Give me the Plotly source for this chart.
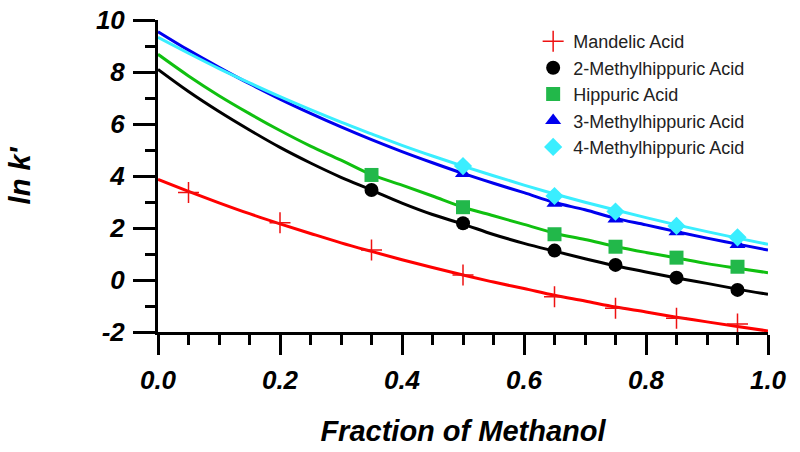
import plotly.graph_objects as go

# ---- data ----
marker_x = [0.35, 0.5, 0.65, 0.75, 0.85, 0.95]
mandelic_x = [0.05, 0.2, 0.35, 0.5, 0.65, 0.75, 0.85, 0.95]
mandelic_y = [3.37, 2.20, 1.15, 0.19, -0.64, -1.09, -1.47, -1.69]
methyl2_y = [3.46, 2.18, 1.13, 0.58, 0.09, -0.38]
hippuric_y = [4.04, 2.80, 1.76, 1.28, 0.86, 0.51]
methyl3_y = [4.10, 2.95, 2.35, 1.86, 1.37]
methyl4_y = [4.38, 3.23, 2.63, 2.08, 1.64]
methyl34_x = [0.5, 0.65, 0.75, 0.85, 0.95]

# fitted curves (values read at these fractions)
curve_x = [0, 0.05, 0.1, 0.15, 0.2, 0.25, 0.3, 0.35, 0.4, 0.45, 0.5,
           0.55, 0.6, 0.65, 0.7, 0.75, 0.8, 0.85, 0.9, 0.95, 1.0]
curve_mandelic = [3.87, 3.41, 2.97, 2.55, 2.16, 1.79, 1.43, 1.10, 0.78, 0.48, 0.19,
                  -0.08, -0.33, -0.59, -0.81, -1.04, -1.23, -1.43, -1.61, -1.79, -1.96]
curve_methyl2 = [8.10, 7.25, 6.48, 5.77, 5.10, 4.50, 3.95, 3.46, 2.96, 2.52, 2.15,
                 1.75, 1.41, 1.11, 0.82, 0.55, 0.31, 0.08, -0.13, -0.35, -0.55]
curve_hippuric = [8.68, 7.85, 7.09, 6.40, 5.75, 5.15, 4.61, 4.05, 3.65, 3.23, 2.80,
                  2.47, 2.14, 1.80, 1.56, 1.29, 1.06, 0.85, 0.63, 0.45, 0.28]
curve_methyl3 = [9.55, 8.84, 8.18, 7.55, 6.96, 6.41, 5.89, 5.40, 4.94, 4.51, 4.10,
                 3.72, 3.36, 2.98, 2.70, 2.37, 2.12, 1.86, 1.61, 1.38, 1.15]
curve_methyl4 = [9.33, 8.72, 8.13, 7.58, 7.05, 6.55, 6.07, 5.62, 5.18, 4.77, 4.38,
                 4.01, 3.65, 3.31, 2.99, 2.69, 2.40, 2.12, 1.86, 1.61, 1.37]

y_tickvals = [-2, 0, 2, 4, 6, 8, 10]
y_ticktext = ["-2", "0", "2", "4", "6", "8", "10"]

names = ["Mandelic Acid", "2-Methylhippuric Acid", "Hippuric Acid",
         "3-Methylhippuric Acid", "4-Methylhippuric Acid"]
line_colors = ["#ff0000", "#000000", "#10c010", "#0000ee", "#3aeeff"]
marker_colors = ["#ee1111", "#000000", "#22b84a", "#0000ee", "#3aeeff"]
symbols = ["cross-thin-open", "circle", "square", "triangle-up", "diamond"]

curves = [curve_mandelic, curve_methyl2, curve_hippuric, curve_methyl3, curve_methyl4]
points = [(mandelic_x, mandelic_y), (marker_x, methyl2_y), (marker_x, hippuric_y),
          (methyl34_x, methyl3_y), (methyl34_x, methyl4_y)]

fig = go.Figure()
for i in range(5):
    fig.add_trace(go.Scatter(
        x=curve_x, y=curves[i], mode="lines", line=dict(color=line_colors[i], width=3, shape="spline"),
        showlegend=False, hoverinfo="skip"))
for i in range(5):
    px, py = points[i]
    if i == 0:
        mk = dict(symbol=symbols[i], size=15, color=marker_colors[i], line=dict(color=marker_colors[i], width=1.5))
    else:
        mk = dict(symbol=symbols[i], size=14, color=marker_colors[i], line=dict(width=0))
    fig.add_trace(go.Scatter(x=px, y=py, mode="markers", marker=mk, name=names[i], cliponaxis=False))

tickfont = dict(family="Liberation Sans, Arial", size=26, color="black", weight="bold", style="italic")
titlefont = dict(family="Liberation Sans, Arial", size=29, color="black", weight="bold", style="italic")

fig.update_layout(
    width=800, height=452,
    margin=dict(l=158, r=32, t=20, b=120),
    paper_bgcolor="white", plot_bgcolor="white",
    legend=dict(x=0.615, y=0.99, xanchor="left", yanchor="top",
                font=dict(family="Liberation Sans, Arial", size=18, color="#222222"),
                bgcolor="rgba(0,0,0,0)"),
    xaxis=dict(range=[0, 1], dtick=0.2, tick0=0, tickformat=".1f", automargin=False,
               showgrid=False, zeroline=False, showline=True, linecolor="black", linewidth=3,
               ticks="outside", ticklen=20, tickwidth=3, tickcolor="black",
               minor=dict(dtick=0.05, ticks="outside", ticklen=10, tickwidth=3, tickcolor="black", showgrid=False),
               tickfont=tickfont, ticklabelstandoff=3, ticklabeloverflow="allow",
               title=dict(text="Fraction of Methanol", font=titlefont, standoff=27)),
    yaxis=dict(range=[-2, 10], tickvals=y_tickvals, ticktext=y_ticktext, automargin=False,
               showgrid=False, zeroline=False, showline=True, linecolor="black", linewidth=3,
               ticks="outside", ticklen=22, tickwidth=3, tickcolor="black",
               minor=dict(dtick=1, tick0=0, ticks="outside", ticklen=10, tickwidth=3, tickcolor="black", showgrid=False),
               tickfont=tickfont, ticklabelstandoff=3, ticklabeloverflow="allow",
               title=dict(text="ln k'", font=titlefont, standoff=57)),
)

# remove the page's default 8px body margin so the figure fills the window exactly
fig.write_html("out.html", config={"displayModeBar": False},
               post_script="document.body.style.margin='0';")
